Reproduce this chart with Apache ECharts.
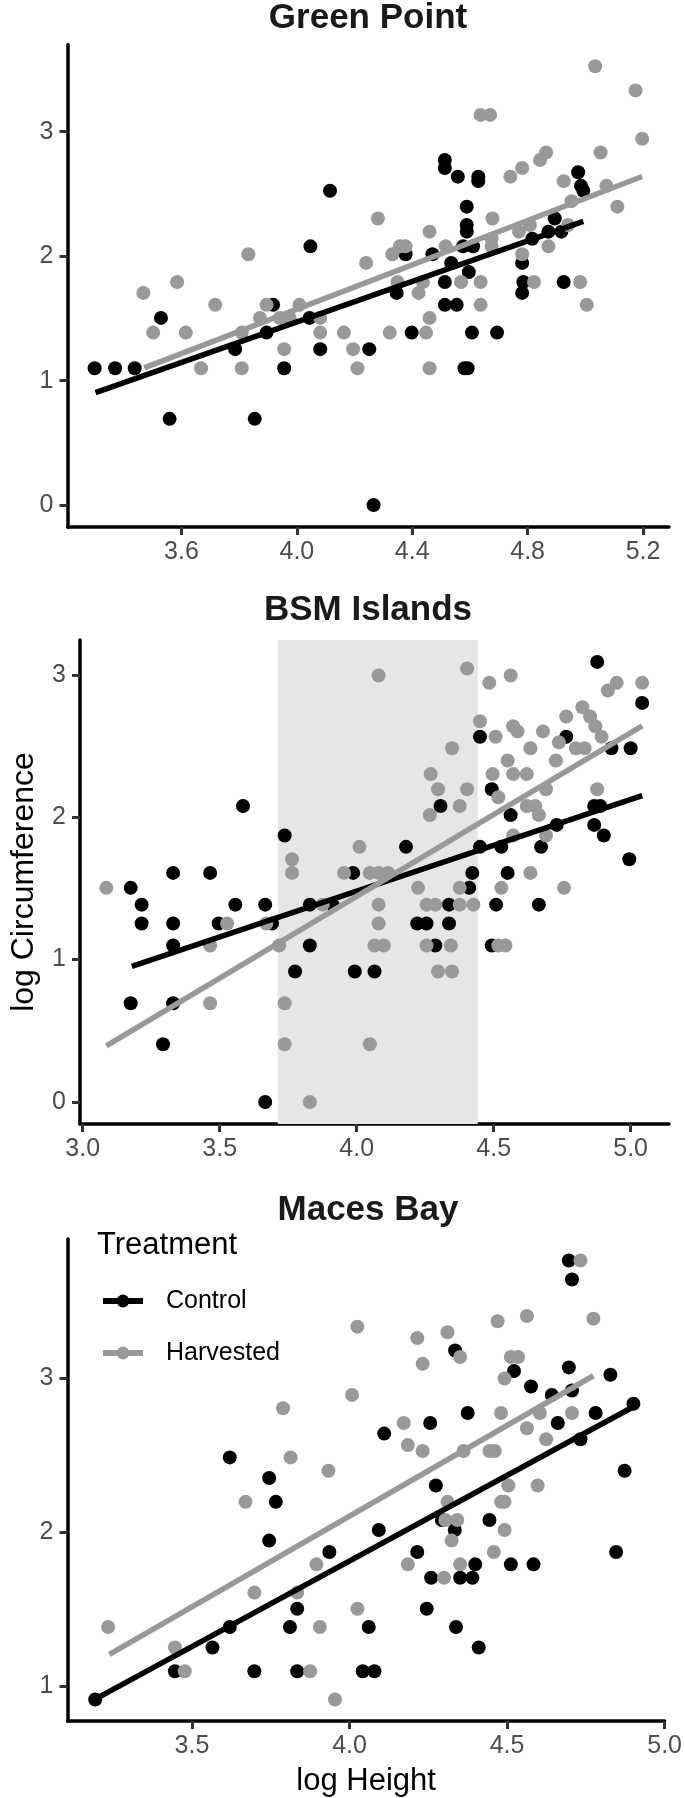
<!DOCTYPE html>
<html><head><meta charset="utf-8">
<script src="https://cdn.jsdelivr.net/npm/echarts@6/dist/echarts.min.js"></script>
<style>html,body{margin:0;padding:0;background:#fff}#c{width:685px;height:1798px}</style>
</head><body><div id="c"></div>
<script>
const panelTitles = ['Green Point', 'BSM Islands', 'Maces Bay'];
const seriesNames = ['Control', 'Harvested'];
const legendTitle = 'Treatment';
const xAxisTitle = 'log Height';
const yAxisTitle = 'log Circumference';

// Green Point
const gpControl = [[3.299,1.099],[3.370,1.099],[3.438,1.099],[3.529,1.504],[3.559,0.693],[3.786,1.253],[3.854,0.693],[3.895,1.386],[3.918,1.609],[3.956,1.099],[4.047,2.079],[4.044,1.504],[4.081,1.253],[4.115,2.526],[4.251,1.253],[4.266,0],[4.346,1.705],[4.377,2.015],[4.398,1.386],[4.470,2.015],[4.513,2.773],[4.513,2.708],[4.513,1.792],[4.513,1.609],[4.554,1.609],[4.558,2.639],[4.535,1.946],[4.581,1.099],[4.592,1.099],[4.589,2.398],[4.589,2.251],[4.589,2.197],[4.576,2.079],[4.611,2.079],[4.596,1.872],[4.607,1.386],[4.629,2.639],[4.629,2.603],[4.694,1.386],[4.781,1.946],[4.785,1.792],[4.781,1.705],[4.816,2.140],[4.872,2.197],[4.894,2.303],[4.917,2.197],[4.925,1.792],[4.975,2.674],[4.985,2.565],[4.993,2.526]];
const gpHarvested = [[3.468,1.705],[3.502,1.386],[3.585,1.792],[3.615,1.386],[3.668,1.099],[3.717,1.609],[3.809,1.386],[3.809,1.099],[3.832,2.015],[3.872,1.504],[3.895,1.609],[3.941,1.504],[3.956,1.253],[3.975,1.504],[4.009,1.609],[4.081,1.504],[4.081,1.386],[4.163,1.386],[4.195,1.253],[4.210,1.099],[4.240,1.946],[4.281,2.303],[4.322,1.386],[4.331,2.015],[4.357,2.079],[4.377,2.079],[4.349,1.792],[4.422,1.705],[4.437,1.792],[4.448,1.386],[4.460,2.197],[4.460,1.504],[4.460,1.099],[4.516,2.079],[4.569,1.792],[4.637,3.135],[4.670,3.135],[4.637,1.792],[4.637,1.609],[4.678,2.303],[4.675,2.140],[4.675,2.079],[4.740,2.639],[4.781,2.708],[4.781,2.015],[4.770,2.197],[4.808,2.251],[4.822,1.792],[4.843,2.773],[4.864,2.833],[4.872,2.079],[4.925,2.603],[4.940,2.251],[4.952,2.442],[4.982,1.792],[5.005,1.609],[5.034,3.526],[5.053,2.833],[5.073,2.565],[5.111,2.398],[5.174,3.332],[5.197,2.944]];
const gpFitControl = [[3.302,0.903],[4.993,2.280]];
const gpFitHarvested = [[3.471,1.103],[5.197,2.640]];
const gpXRange = [3.205, 5.29];
const gpYRange = [-0.176, 3.70];
const gpXTicks = [3.6, 4.0, 4.4, 4.8, 5.2];
const gpYTicks = [0, 1, 2, 3];

// BSM Islands
const bsmControl = [[3.175,1.504],[3.215,1.386],[3.215,1.253],[3.175,0.693],[3.293,0.405],[3.330,1.609],[3.330,1.253],[3.330,1.099],[3.330,0.693],[3.465,1.609],[3.496,1.253],[3.557,1.386],[3.585,2.079],[3.666,1.386],[3.666,0],[3.691,1.253],[3.737,1.872],[3.775,0.916],[3.829,1.386],[3.829,1.099],[3.912,1.386],[3.987,1.609],[3.993,0.916],[4.065,0.916],[4.180,1.792],[4.221,1.253],[4.255,1.253],[4.287,1.099],[4.306,2.079],[4.337,1.386],[4.337,1.253],[4.411,1.504],[4.422,1.609],[4.450,1.792],[4.450,2.565],[4.493,1.099],[4.493,2.197],[4.509,1.386],[4.528,1.792],[4.551,1.609],[4.562,2.015],[4.665,1.386],[4.673,1.792],[4.730,1.946],[4.765,2.565],[4.867,1.946],[4.878,3.091],[4.889,2.079],[4.867,2.079],[4.902,1.872],[4.930,2.485],[5.000,2.485],[4.995,1.705],[5.042,2.803]];
const bsmHarvested = [[3.086,1.504],[3.465,1.099],[3.465,0.693],[3.527,1.253],[3.670,1.253],[3.717,1.099],[3.737,0.693],[3.737,0.405],[3.764,1.705],[3.764,1.609],[3.829,0],[3.876,1.386],[3.954,1.609],[4.010,1.792],[4.048,0.405],[4.048,1.609],[4.080,2.996],[4.080,1.386],[4.080,1.253],[4.065,1.099],[4.099,1.099],[4.080,1.609],[4.115,1.609],[4.224,1.504],[4.255,1.386],[4.255,1.099],[4.270,2.303],[4.267,2.015],[4.297,2.197],[4.287,1.386],[4.297,0.916],[4.344,1.099],[4.348,0.916],[4.348,2.485],[4.376,2.079],[4.376,1.386],[4.376,1.504],[4.403,3.045],[4.403,2.197],[4.426,1.386],[4.450,2.674],[4.484,2.944],[4.496,2.303],[4.507,2.565],[4.517,2.140],[4.517,1.099],[4.528,1.504],[4.543,1.099],[4.551,2.398],[4.562,2.996],[4.571,2.303],[4.571,2.639],[4.587,2.603],[4.571,1.872],[4.621,2.303],[4.634,2.485],[4.621,2.079],[4.652,2.079],[4.665,2.015],[4.634,1.609],[4.680,2.603],[4.691,2.197],[4.691,1.872],[4.727,2.398],[4.738,2.526],[4.757,1.504],[4.765,2.708],[4.800,2.485],[4.832,2.485],[4.824,2.773],[4.871,2.639],[4.852,2.708],[4.878,2.197],[4.894,2.565],[4.917,2.890],[4.949,2.944],[5.042,2.944]];
const bsmFitControl = [[3.179,0.952],[5.042,2.152]];
const bsmFitHarvested = [[3.086,0.394],[5.042,2.642]];
const bsmBand = [3.712, 4.442];
const bsmXRange = [2.99, 5.14];
const bsmYRange = [-0.155, 3.245];
const bsmXTicks = [3.0, 3.5, 4.0, 4.5, 5.0];
const bsmYTicks = [0, 1, 2, 3];

// Maces Bay
const mbControl = [[3.193,0.916],[3.446,1.099],[3.565,1.253],[3.620,2.485],[3.620,1.386],[3.698,1.099],[3.745,2.351],[3.766,2.197],[3.745,1.946],[3.811,1.386],[3.834,1.504],[3.834,1.099],[3.936,1.872],[4.042,1.099],[4.079,1.099],[4.061,1.386],[4.093,2.015],[4.110,2.639],[4.215,1.872],[4.245,1.504],[4.256,2.708],[4.259,1.705],[4.274,2.303],[4.293,2.079],[4.334,2.015],[4.335,3.178],[4.338,1.386],[4.351,1.705],[4.375,2.773],[4.390,1.705],[4.399,1.792],[4.410,1.253],[4.444,2.079],[4.512,1.792],[4.522,3.045],[4.576,2.944],[4.584,1.792],[4.642,2.890],[4.661,2.708],[4.696,3.761],[4.706,3.638],[4.696,3.068],[4.706,2.918],[4.733,2.603],[4.781,2.773],[4.828,3.020],[4.846,1.872],[4.873,2.398],[4.901,2.833]];
const mbHarvested = [[3.234,1.386],[3.446,1.253],[3.477,1.099],[3.670,2.197],[3.698,1.609],[3.789,2.803],[3.813,2.485],[3.834,1.609],[3.875,1.099],[3.895,1.792],[3.906,1.386],[3.933,2.398],[3.954,0.916],[4.008,2.890],[4.025,3.332],[4.025,1.504],[4.172,2.708],[4.185,2.565],[4.185,1.792],[4.215,3.258],[4.232,3.091],[4.232,2.526],[4.311,3.296],[4.300,1.705],[4.311,2.197],[4.304,2.079],[4.324,1.946],[4.342,2.079],[4.351,3.135],[4.351,1.792],[4.362,2.526],[4.444,2.526],[4.461,2.526],[4.458,1.872],[4.470,3.367],[4.481,2.773],[4.481,2.197],[4.492,2.197],[4.492,2.015],[4.492,2.996],[4.504,2.303],[4.512,3.135],[4.535,3.135],[4.563,3.401],[4.563,2.674],[4.597,2.303],[4.604,2.773],[4.624,2.603],[4.706,2.773],[4.733,3.761],[4.774,3.384]];
const mbFitControl = [[3.193,0.919],[4.901,2.813]];
const mbFitHarvested = [[3.238,1.208],[4.774,3.014]];
const mbXRange = [3.105, 5.0];
const mbYRange = [0.777, 3.90];
const mbXTicks = [3.5, 4.0, 4.5, 5.0];
const mbYTicks = [1, 2, 3];

const FONT = '"Liberation Sans", Arial, sans-serif';
const BLACK = '#000000';
const GRAY = '#999999';

const panels = [
  {control: gpControl, harvested: gpHarvested, fitC: gpFitControl, fitH: gpFitHarvested, xr: gpXRange, yr: gpYRange, xt: gpXTicks, yt: gpYTicks},
  {control: bsmControl, harvested: bsmHarvested, fitC: bsmFitControl, fitH: bsmFitHarvested, xr: bsmXRange, yr: bsmYRange, xt: bsmXTicks, yt: bsmYTicks},
  {control: mbControl, harvested: mbHarvested, fitC: mbFitControl, fitH: mbFitHarvested, xr: mbXRange, yr: mbYRange, xt: mbXTicks, yt: mbYTicks}
];

const gridTops = [44.6, 640, 1239];
const gridHeights = [482.4, 484, 482];
const titleTops = [1, 593, 1193];

const axisLineStyle = {color: '#000', width: 3.5};
const grids = [], xAxes = [], yAxes = [], titles = [], series = [];

panels.forEach((p, i) => {
  grids.push({left: 67.5, right: 16, top: gridTops[i], height: gridHeights[i]});
  xAxes.push({
    gridIndex: i, type: 'value', min: p.xr[0], max: p.xr[1],
    axisLine: {show: true, onZero: false, lineStyle: axisLineStyle},
    axisTick: {show: true, length: 8, lineStyle: {color: '#333', width: 3}, customValues: p.xt},
    axisLabel: {customValues: p.xt, formatter: v => v.toFixed(1), color: '#4d4d4d', fontSize: 25, margin: 13, fontFamily: FONT},
    splitLine: {show: false},
    name: i === 2 ? xAxisTitle : '', nameLocation: 'middle', nameGap: 45,
    nameTextStyle: {fontSize: 31, color: '#000', fontFamily: FONT}
  });
  yAxes.push({
    gridIndex: i, type: 'value', min: p.yr[0], max: p.yr[1],
    axisLine: {show: true, onZero: false, lineStyle: axisLineStyle},
    axisTick: {show: true, length: 8, lineStyle: {color: '#333', width: 3}, customValues: p.yt},
    axisLabel: {customValues: p.yt, formatter: v => String(v), color: '#4d4d4d', fontSize: 25, margin: 14, fontFamily: FONT},
    splitLine: {show: false},
    name: i === 1 ? yAxisTitle : '', nameLocation: 'middle', nameGap: 40,
    nameTextStyle: {fontSize: 32, color: '#000', fontFamily: FONT}
  });
  titles.push({text: panelTitles[i], left: 368, top: titleTops[i], textAlign: 'center', padding: 0,
    textStyle: {fontSize: 35, fontWeight: 'bold', color: '#1a1a1a', fontFamily: FONT}});
});

// fit lines first so the legend uses them for its icons
panels.forEach((p, i) => {
  [[p.fitC, BLACK, 0], [p.fitH, GRAY, 1]].forEach(([d, col, k]) => {
    series.push({type: 'line', name: seriesNames[k], xAxisIndex: i, yAxisIndex: i, data: d,
      symbol: 'circle', symbolSize: 14, showSymbol: false, silent: true, z: 4 + k,
      lineStyle: {color: col, width: 5.5}, itemStyle: {color: col}});
  });
});
panels.forEach((p, i) => {
  [[p.control, BLACK, 0], [p.harvested, GRAY, 1]].forEach(([d, col, k]) => {
    series.push({type: 'scatter', name: seriesNames[k], xAxisIndex: i, yAxisIndex: i, data: d,
      symbol: 'circle', symbolSize: 14, silent: true, z: 2 + k,
      itemStyle: {color: col, opacity: 1}});
  });
});
// shaded band in BSM Islands
series.push({type: 'scatter', name: 'band', xAxisIndex: 1, yAxisIndex: 1, data: [[bsmBand[0], 1]], symbolSize: 0, z: 1, silent: true,
  markArea: {silent: true, itemStyle: {color: '#e6e6e6'}, data: [[{xAxis: bsmBand[0]}, {xAxis: bsmBand[1]}]]}});

titles.push({text: legendTitle, left: 97, top: 1230, padding: 0,
  textStyle: {fontSize: 31, fontWeight: 'normal', color: '#000', fontFamily: FONT}});

const chart = echarts.init(document.getElementById('c'), null, {renderer: 'canvas'});
chart.setOption({
  animation: false,
  backgroundColor: '#fff',
  title: titles,
  grid: grids, xAxis: xAxes, yAxis: yAxes,
  legend: {data: seriesNames, orient: 'vertical', left: 100, top: 1288.5, padding: 0,
    itemWidth: 40, itemHeight: 16, itemGap: 27, selectedMode: false,
    lineStyle: {width: 6},
    textStyle: {fontSize: 25, color: '#000', fontFamily: FONT, padding: [0, 0, 0, 18]}},
  series: series
});
</script></body></html>
